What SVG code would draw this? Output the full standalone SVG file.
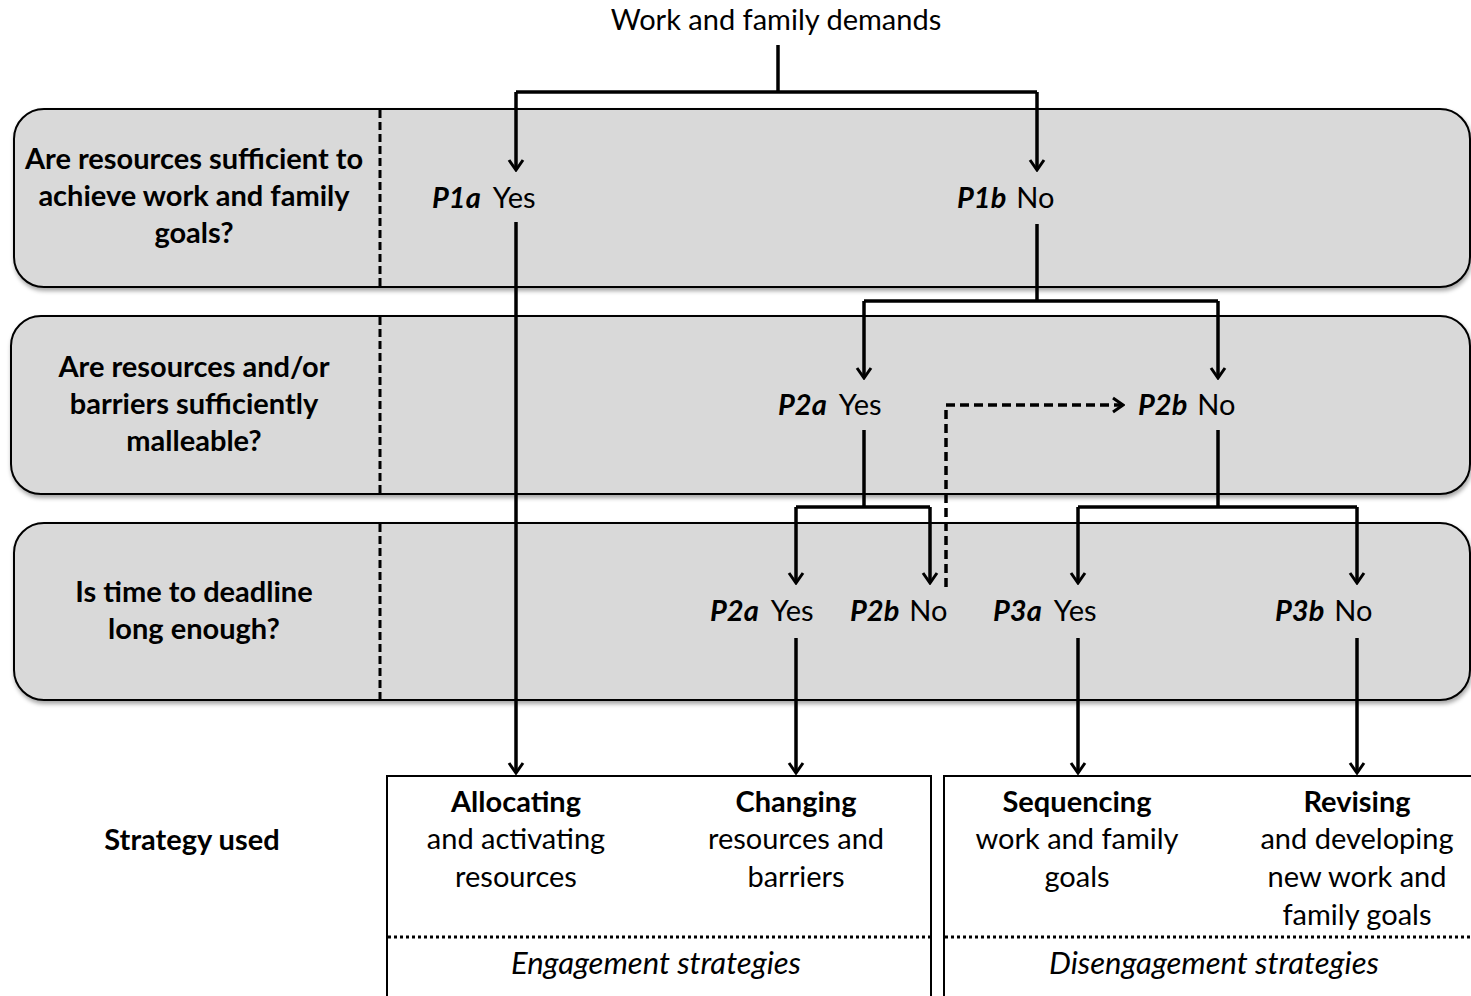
<svg xmlns="http://www.w3.org/2000/svg" width="1471" height="996" viewBox="0 0 1471 996">
<defs>
<filter id="sh" x="-5%" y="-10%" width="110%" height="130%">
<feDropShadow dx="1" dy="3" stdDeviation="2" flood-color="#000" flood-opacity="0.35"/>
</filter>
<marker id="ah" viewBox="-12 -10 14 20" markerWidth="14" markerHeight="20" refX="0" refY="0" orient="auto" markerUnits="userSpaceOnUse">
<path d="M-10,-7 L0,0 L-10,7" fill="none" stroke="#000" stroke-width="3"/>
</marker>
</defs>
<style>
.band{fill:#d9d9d9;stroke:#000;stroke-width:2}
.sep{stroke:#000;stroke-width:3;stroke-dasharray:8 4}
.q{font-family:Lato,"Liberation Sans",sans-serif;font-weight:bold;font-size:29px;text-anchor:middle;fill:#000}
.t{font-family:Lato,"Liberation Sans",sans-serif;font-size:29px;fill:#000}
.p{font-weight:bold;font-style:italic}
.c{fill:none;stroke:#000;stroke-width:3.5}
.box{fill:#fff;stroke:#000;stroke-width:2}
.dot{stroke:#000;stroke-width:3;stroke-dasharray:3 3}
.bx{font-family:Lato,"Liberation Sans",sans-serif;font-size:29px;text-anchor:middle;fill:#000}
.it{font-style:italic;font-size:31px}
</style>
<text class="t" x="776" y="30" text-anchor="middle">Work and family demands</text>

<g id="band1">
<rect class="band" x="14" y="109" width="1456" height="178" rx="30" filter="url(#sh)"/>
<line class="sep" x1="380" y1="110" x2="380" y2="286"/>
<text class="q"><tspan x="194" y="169">Are resources sufficient to</tspan><tspan x="194" y="206">achieve work and family</tspan><tspan x="194" y="243">goals?</tspan></text>
</g>
<g id="band2">
<rect class="band" x="11" y="316" width="1459" height="178" rx="30" filter="url(#sh)"/>
<line class="sep" x1="380" y1="317" x2="380" y2="493"/>
<text class="q"><tspan x="194" y="377">Are resources and/or</tspan><tspan x="194" y="414">barriers sufficiently</tspan><tspan x="194" y="451">malleable?</tspan></text>
</g>
<g id="band3">
<rect class="band" x="14" y="523" width="1456" height="177" rx="30" filter="url(#sh)"/>
<line class="sep" x1="380" y1="524" x2="380" y2="699"/>
<text class="q"><tspan x="194" y="602">Is time to deadline</tspan><tspan x="194" y="639">long enough?</tspan></text>
</g>

<g id="p1a"><text class="t" x="432" y="208"><tspan class="p">P1a</tspan><tspan dx="12">Yes</tspan></text></g>
<g id="p1b"><text class="t" x="957" y="208"><tspan class="p">P1b</tspan><tspan dx="10">No</tspan></text></g>
<g id="p2a"><text class="t" x="778" y="415"><tspan class="p">P2a</tspan><tspan dx="12">Yes</tspan></text></g>
<g id="p2b"><text class="t" x="1138" y="415"><tspan class="p">P2b</tspan><tspan dx="10">No</tspan></text></g>
<g id="p2a-t"><text class="t" x="710" y="621"><tspan class="p">P2a</tspan><tspan dx="12">Yes</tspan></text></g>
<g id="p2b-t"><text class="t" x="850" y="621"><tspan class="p">P2b</tspan><tspan dx="10">No</tspan></text></g>
<g id="p3a"><text class="t" x="993" y="621"><tspan class="p">P3a</tspan><tspan dx="12">Yes</tspan></text></g>
<g id="p3b"><text class="t" x="1275" y="621"><tspan class="p">P3b</tspan><tspan dx="10">No</tspan></text></g>

<g id="strategy-label"><text class="bx" x="192" y="850" font-weight="bold">Strategy used</text></g>

<g id="engagement">
<rect class="box" x="387" y="776" width="544" height="240"/>
<line class="dot" x1="388" y1="937" x2="930" y2="937"/>
<text class="bx"><tspan x="516" y="812" font-weight="bold">Allocating</tspan><tspan x="516" y="849">and activating</tspan><tspan x="516" y="887">resources</tspan></text>
<text class="bx"><tspan x="796" y="812" font-weight="bold">Changing</tspan><tspan x="796" y="849">resources and</tspan><tspan x="796" y="887">barriers</tspan></text>
<text class="bx it" x="656" y="974">Engagement strategies</text>
</g>
<g id="disengagement">
<rect class="box" x="944" y="776" width="540" height="240"/>
<line class="dot" x1="945" y1="937" x2="1471" y2="937"/>
<text class="bx"><tspan x="1077" y="812" font-weight="bold">Sequencing</tspan><tspan x="1077" y="849">work and family</tspan><tspan x="1077" y="887">goals</tspan></text>
<text class="bx"><tspan x="1357" y="812" font-weight="bold">Revising</tspan><tspan x="1357" y="849">and developing</tspan><tspan x="1357" y="887">new work and</tspan><tspan x="1357" y="925">family goals</tspan></text>
<text class="bx it" x="1214" y="974">Disengagement strategies</text>
</g>

<g id="connectors">
<polyline class="c" points="778,45 778,92"/>
<polyline class="c" points="516,92 1037,92"/>
<polyline class="c" points="516,92 516,170" marker-end="url(#ah)"/>
<polyline class="c" points="1037,92 1037,170" marker-end="url(#ah)"/>
<polyline class="c" points="516,222 516,773" marker-end="url(#ah)"/>
<polyline class="c" points="1037,224 1037,301"/>
<polyline class="c" points="864,301 1218,301"/>
<polyline class="c" points="864,301 864,378" marker-end="url(#ah)"/>
<polyline class="c" points="1218,301 1218,378" marker-end="url(#ah)"/>
<polyline class="c" points="864,430 864,507"/>
<polyline class="c" points="796,507 930,507"/>
<polyline class="c" points="796,507 796,583" marker-end="url(#ah)"/>
<polyline class="c" points="930,507 930,583" marker-end="url(#ah)"/>
<polyline class="c" points="1218,430 1218,507"/>
<polyline class="c" points="1078,507 1357,507"/>
<polyline class="c" points="1078,507 1078,583" marker-end="url(#ah)"/>
<polyline class="c" points="1357,507 1357,583" marker-end="url(#ah)"/>
<polyline class="c" points="796,638 796,773" marker-end="url(#ah)"/>
<polyline class="c" points="1078,638 1078,773" marker-end="url(#ah)"/>
<polyline class="c" points="1357,638 1357,773" marker-end="url(#ah)"/>
<polyline class="c" points="946,587 946,405 1123,405" stroke-width="3" stroke-dasharray="9 5" marker-end="url(#ah)"/>
</g>
</svg>
